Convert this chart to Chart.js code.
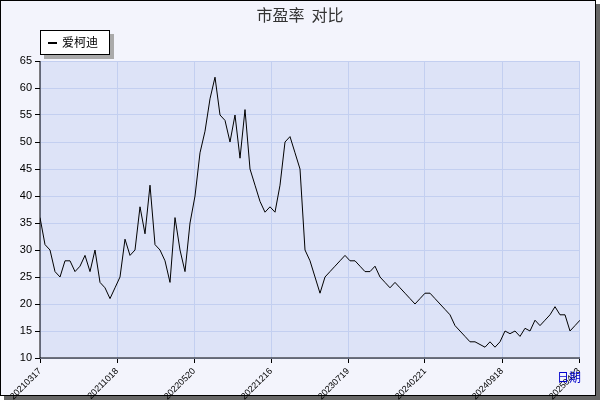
<!DOCTYPE html>
<html><head><meta charset="utf-8">
<script src="https://cdn.jsdelivr.net/npm/chart.js@4"></script>
<style>body{margin:0;background:#fff}#w{width:600px;height:400px}</style>
</head><body><div id="w"><canvas id="c" width="600" height="400"></canvas></div>
<script>
const peValues=[36,31,30,26,25,28,28,26,27,29,26,30,24,23,21,23,25,32,29,30,38,33,42,31,30,28,24,36,30,26,35,40,48,52,58,62,55,54,50,55,47,56,45,42,39,37,38,37,42,50,51,48,45,30,28,25,22,25,26,27,28,29,28,28,27,26,26,27,25,24,23,24,23,22,21,20,21,22,22,21,20,19,18,16,15,14,13,13,12.5,12,13,12,13,15,14.5,15,14,15.5,15,17,16,17,18,19.5,18,18,15,16,17];
const tickDates=['20210317','20211018','20220520','20221216','20230719','20240221','20240918','20250423'];
const tickIndex=[0,15.4,30.8,46.2,61.6,77,92.4,107.8];
const seriesName='爱柯迪';
const pts=peValues.map((v,i)=>({x:i,y:v}));
const bg={id:'bg',beforeDraw(ch){const c=ch.ctx;c.save();c.fillStyle='#666';c.fillRect(4,4,596,396);c.fillStyle='#f3f4fc';c.fillRect(0,0,596,396);c.strokeStyle='#000';c.lineWidth=1;c.strokeRect(0.5,0.5,595,395);
const a=ch.chartArea;c.fillStyle='#dde3f7';c.fillRect(a.left,a.top,a.right-a.left,a.bottom-a.top);c.restore();},
afterDraw(ch){const c=ch.ctx;c.save();c.font='16px "Noto Sans CJK SC"';c.fillStyle='#333';c.textAlign='center';c.fillText('市盈率  对比',300,21);
c.fillStyle='#aaa';c.fillRect(44,34,70,25);c.fillStyle='#fff';c.fillRect(40,30,70,25);c.strokeStyle='#000';c.strokeRect(40.5,30.5,69,24);
c.fillStyle='#000';c.fillRect(48,42,9,2);c.font='12px "Noto Sans CJK SC"';c.textAlign='left';c.fillText(seriesName,62,47);
c.fillStyle='#00c';c.font='12px "Noto Sans CJK SC"';c.fillText('日期',557,382);
const a=ch.chartArea;c.strokeStyle='#000';c.beginPath();c.moveTo(a.left,a.top);c.lineTo(a.left,a.bottom);c.lineTo(a.right,a.bottom);c.stroke();c.restore();}};
new Chart(document.getElementById('c'),{type:'line',data:{datasets:[{data:pts,borderColor:'#000',borderWidth:1,pointRadius:0,tension:0}]},
options:{responsive:false,animation:false,plugins:{legend:{display:false},tooltip:{enabled:false}},layout:{padding:{left:0,right:20,top:61,bottom:0}},
scales:{x:{type:'linear',min:0,max:108,afterFit(s){s.height=42;},afterBuildTicks(s){s.ticks=tickIndex.map(v=>({value:v}));},ticks:{autoSkip:false,maxRotation:45,minRotation:45,color:'#000',font:{size:9},callback:(v)=>{const k=tickIndex.indexOf(v);return k>=0?tickDates[k]:'';}},grid:{color:'#c3cff0',tickColor:'#000',tickLength:5},border:{display:false}},
y:{min:10,max:65,afterFit(s){s.width=40;},ticks:{stepSize:5,color:'#000',font:{size:11}},grid:{color:'#c3cff0',tickColor:'#000',tickLength:5},border:{display:false}}}},plugins:[bg]});
</script></body></html>
